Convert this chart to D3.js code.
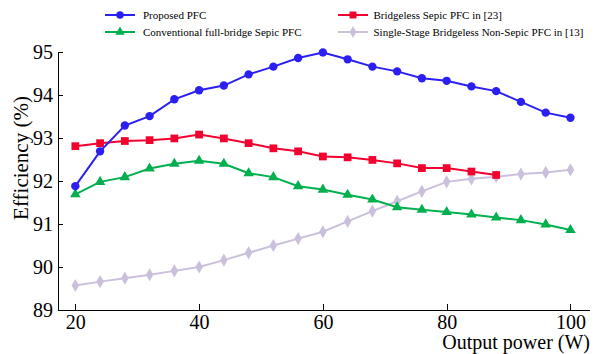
<!DOCTYPE html>
<html>
<head>
<meta charset="utf-8">
<script src="https://cdn.jsdelivr.net/npm/d3@7/dist/d3.min.js"></script>
<style>
  html, body { margin: 0; padding: 0; background: #fff; }
  svg { display: block; }
  .axis path, .axis line { stroke: #000; stroke-width: 1; shape-rendering: crispEdges; }
</style>
</head>
<body>
<svg id="chart" width="597" height="354"></svg>
<script>
// Output power (W)
const power = [20, 24, 28, 32, 36, 40, 44, 48, 52, 56, 60, 64, 68, 72, 76, 80, 84, 88, 92, 96, 100];

// Efficiency (%) of each converter
const proposedPFC = [91.88, 92.69, 93.29, 93.51, 93.9, 94.11, 94.22, 94.48, 94.66, 94.86, 94.99,
                     94.83, 94.66, 94.55, 94.39, 94.33, 94.2, 94.09, 93.84, 93.59, 93.47];
const bridgelessSepic = [92.81, 92.88, 92.93, 92.95, 92.99, 93.08, 92.99, 92.88, 92.76, 92.69, 92.57,
                         92.55, 92.49, 92.41, 92.3, 92.3, 92.22, 92.14];
const conventionalFB = [91.69, 91.98, 92.09, 92.29, 92.4, 92.47, 92.4, 92.18, 92.09, 91.88, 91.8,
                        91.68, 91.57, 91.39, 91.33, 91.28, 91.22, 91.15, 91.09, 90.99, 90.86];
const singleStageNonSepic = [89.57, 89.66, 89.74, 89.82, 89.91, 90.0, 90.16, 90.33, 90.5, 90.66, 90.82,
                             91.06, 91.3, 91.53, 91.76, 91.98, 92.05, 92.1, 92.16, 92.2, 92.26];

const seriesNames = [
  "Proposed PFC",
  "Bridgeless Sepic PFC in [23]",
  "Conventional full-bridge Sepic PFC",
  "Single-Stage Bridgeless Non-Sepic PFC in [13]"
];

const xTicks = [20, 40, 60, 80, 100];
const yTicks = [89, 90, 91, 92, 93, 94, 95];

const FONT = "'Liberation Serif', 'Times New Roman', Times, 'DejaVu Serif', serif";

const series = [
  { name: seriesNames[0], values: proposedPFC, color: "#2b1ff2", symbol: d3.symbolCircle, size: 55 },
  { name: seriesNames[1], values: bridgelessSepic, color: "#f2002e", symbol: d3.symbolSquare, size: 60 },
  { name: seriesNames[2], values: conventionalFB, color: "#00b04f", symbol: d3.symbolTriangle, size: 48 },
  { name: seriesNames[3], values: singleStageNonSepic, color: "#cbc0dc", symbol: d3.symbolDiamond, size: 50 }
];

const svg = d3.select("#chart").attr("font-family", FONT);

const x = d3.scaleLinear().domain([17.2, 103]).range([58, 589]);
const y = d3.scaleLinear().domain([89, 95]).range([310, 52]);

// Axes with inward ticks
const xAxis = svg.append("g")
  .attr("class", "axis")
  .attr("transform", "translate(0,310)")
  .call(d3.axisBottom(x).tickValues(xTicks).tickSizeInner(-6).tickSizeOuter(0).tickPadding(5).tickFormat(d3.format("d")));

const yAxis = svg.append("g")
  .attr("class", "axis")
  .attr("transform", "translate(58,0)")
  .call(d3.axisLeft(y).tickValues(yTicks).tickSizeInner(-5).tickSizeOuter(0).tickPadding(5).tickFormat(d3.format("d")));

[xAxis, yAxis].forEach(g => {
  g.attr("font-family", FONT).attr("font-size", 20);
  g.selectAll("text").attr("font-family", FONT).attr("font-size", 20).attr("fill", "#000");
});

// Axis titles
svg.append("text")
  .attr("x", 590).attr("y", 349)
  .attr("text-anchor", "end")
  .attr("font-family", FONT)
  .attr("font-size", 20)
  .text("Output power (W)");

svg.append("text")
  .attr("transform", "translate(27.5,158) rotate(-90)")
  .attr("text-anchor", "middle")
  .attr("font-family", FONT)
  .attr("font-size", 21)
  .text("Efficiency (%)");

// Lines and markers
const line = d3.line()
  .x((d, i) => x(power[i]))
  .y(d => y(d));

// lavender first so the coloured series sit on top
const drawOrder = [3, 2, 1, 0];
drawOrder.forEach(k => {
  const s = series[k];
  const g = svg.append("g");
  g.append("path")
    .datum(s.values)
    .attr("fill", "none")
    .attr("stroke", s.color)
    .attr("stroke-width", 2)
    .attr("d", line);
  g.selectAll("path.mark")
    .data(s.values)
    .join("path")
    .attr("class", "mark")
    .attr("transform", (d, i) => `translate(${x(power[i])},${y(d)})`)
    .attr("d", d3.symbol().type(s.symbol).size(s.size))
    .attr("fill", s.color);
});

// Legend
const legendItems = [
  { s: series[0], lx: 105, ly: 15, tx: 143 },
  { s: series[2], lx: 105, ly: 32, tx: 143 },
  { s: series[1], lx: 338, ly: 15, tx: 373.5 },
  { s: series[3], lx: 338, ly: 32, tx: 373.5 }
];
legendItems.forEach(({ s, lx, ly, tx }) => {
  const g = svg.append("g");
  g.append("line")
    .attr("x1", lx).attr("x2", lx + 30)
    .attr("y1", ly).attr("y2", ly)
    .attr("stroke", s.color).attr("stroke-width", 2);
  g.append("path")
    .attr("transform", `translate(${lx + 15},${ly})`)
    .attr("d", d3.symbol().type(s.symbol).size(s.size * 0.8))
    .attr("fill", s.color);
  g.append("text")
    .attr("x", tx).attr("y", ly + 4)
    .attr("font-family", FONT)
    .attr("font-size", 11)
    .attr("fill", "#000")
    .text(s.name);
});
</script>
</body>
</html>
